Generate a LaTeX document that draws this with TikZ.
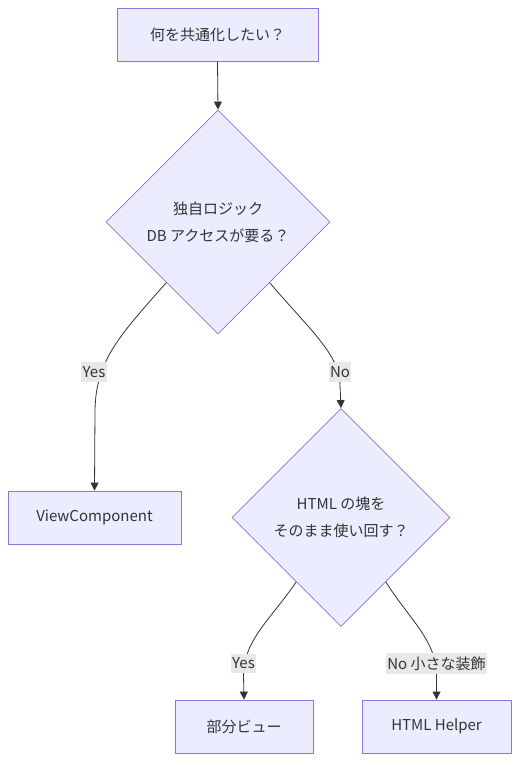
\documentclass[tikz,border=0pt]{standalone}
\usepackage{fontspec}
\setmainfont{Noto Sans CJK JP}
\usetikzlibrary{shapes.geometric,arrows.meta,calc}
\definecolor{boxfill}{HTML}{ECECFF}
\definecolor{boxline}{HTML}{9370DB}
\definecolor{edge}{HTML}{333333}
\definecolor{lblbg}{HTML}{E8E8E8}
\tikzset{
  procbox/.style={draw=boxline, fill=boxfill, line width=0.8pt, text=edge, inner sep=0pt, font=\fontsize{15}{27}\selectfont},
  decbox/.style={diamond, draw=boxline, fill=boxfill, line width=0.8pt, text=edge, inner sep=0pt, align=center, font=\fontsize{15}{27}\selectfont},
  conn/.style={draw=edge, line width=0.8pt, -{Triangle[length=8pt,width=8pt]}},
  elabel/.style={fill=lblbg, text=edge, inner xsep=1.5pt, inner ysep=4pt, font=\fontsize{15}{18}\selectfont}
}
\begin{document}
\begin{tikzpicture}[x=1pt,y=-1pt]
\useasboundingbox (0,0) rectangle (527,773);
\node[procbox, minimum width=201pt, minimum height=53pt] (q) at (217.5,34.5) {何を共通化したい？};
\node[decbox, minimum width=224pt, minimum height=224pt] (d1) at (218,222) {独自ロジック\\DB アクセスが要る？};
\node[procbox, minimum width=173pt, minimum height=53pt] (vc) at (94.5,517.5) {ViewComponent};
\node[decbox, minimum width=218pt, minimum height=218pt] (d2) at (341,517.5) {HTML の塊を\\そのまま使い回す？};
\node[procbox, minimum width=138pt, minimum height=53pt] (pv) at (244,726.5) {部分ビュー};
\node[procbox, minimum width=149pt, minimum height=53pt] (hh) at (436.5,726.5) {HTML Helper};

\coordinate (s1) at ($(d1.south)!0.46!(d1.west)$);
\coordinate (s2) at ($(d1.south)!0.46!(d1.east)$);
\coordinate (s3) at ($(d2.south)!0.41!(d2.west)$);
\coordinate (s4) at ($(d2.south)!0.41!(d2.east)$);

\draw[conn] (q.south) -- (d1.north);
\draw[conn] (s1) .. controls (120,335) and (96,360) .. (95,410) -- (vc.north);
\draw[conn] (s2) .. controls (310,330) and (340,355) .. (340,385) -- (d2.north);
\draw[conn] (s3) .. controls (270,620) and (244,640) .. (243.5,675) -- (pv.north);
\draw[conn] (s4) .. controls (410,620) and (436,640) .. (436.5,675) -- (hh.north);

\node[elabel] (l1) at (94,372) {Yes};
\node[elabel] (l2) at (340,372) {No};
\node[elabel] (l3) at (243.5,663.5) {Yes};
\node[elabel] (l4) at (436.5,663.5) {No 小さな装飾};
\end{tikzpicture}
\end{document}
